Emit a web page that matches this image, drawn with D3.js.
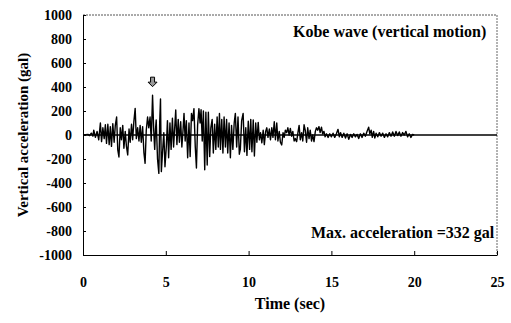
<!DOCTYPE html>
<html>
<head>
<meta charset="utf-8">
<script src="https://cdn.jsdelivr.net/npm/d3@7"></script>
<style>
  body { margin: 0; background: #fff; }
  svg text { font-family: "Liberation Serif", "Times New Roman", serif; font-weight: bold; fill: #000; }
</style>
</head>
<body>
<svg id="chart" width="511" height="323"></svg>
<script>
// ground acceleration record: time (s), acceleration (gal)
const time = [0, 0.3, 0.4, 0.5, 0.6, 0.65, 0.75, 0.85, 0.95, 1.05, 1.12, 1.2, 1.28, 1.35, 1.42, 1.5, 1.58, 1.65, 1.72, 1.8,
  1.88, 1.95, 2.03, 2.1, 2.17, 2.25, 2.32, 2.4, 2.47, 2.55, 2.62, 2.7, 2.78, 2.85, 2.93, 3.0, 3.07, 3.15, 3.22, 3.3,
  3.38, 3.45, 3.52, 3.6, 3.68, 3.75, 3.82, 3.9, 3.97, 4.05, 4.12, 4.2, 4.27, 4.33, 4.38, 4.42, 4.5, 4.58, 4.63, 4.68,
  4.73, 4.8, 4.88, 4.95, 5.03, 5.1, 5.17, 5.25, 5.32, 5.4, 5.47, 5.55, 5.6, 5.67, 5.75, 5.82, 5.9, 5.97, 6.04, 6.1,
  6.17, 6.24, 6.32, 6.4, 6.47, 6.55, 6.62, 6.7, 6.78, 6.85, 6.92, 7.0, 7.07, 7.13, 7.2, 7.27, 7.35, 7.42, 7.5, 7.57,
  7.65, 7.72, 7.8, 7.87, 7.95, 8.02, 8.1, 8.17, 8.24, 8.3, 8.38, 8.45, 8.52, 8.6, 8.67, 8.74, 8.82, 8.9, 8.97, 9.05,
  9.13, 9.2, 9.28, 9.36, 9.44, 9.5, 9.58, 9.67, 9.75, 9.83, 9.9, 9.98, 10.06, 10.13, 10.2, 10.28, 10.35, 10.43, 10.5, 10.58,
  10.65, 10.72, 10.8, 10.88, 10.95, 11.03, 11.1, 11.17, 11.25, 11.32, 11.4, 11.47, 11.55, 11.62, 11.7, 11.77, 11.85, 11.92, 12.0, 12.08,
  12.15, 12.22, 12.3, 12.37, 12.45, 12.52, 12.6, 12.67, 12.75, 12.82, 12.9, 12.98, 13.05, 13.12, 13.2, 13.27, 13.35, 13.42, 13.5, 13.57,
  13.65, 13.72, 13.8, 13.87, 13.95, 14.03, 14.1, 14.17, 14.25, 14.32, 14.4, 14.47, 14.55, 14.62, 14.7, 14.8, 14.9, 15.0, 15.1, 15.2,
  15.3, 15.4, 15.48, 15.55, 15.65, 15.75, 15.85, 15.95, 16.05, 16.15, 16.25, 16.35, 16.45, 16.55, 16.65, 16.75, 16.85, 16.95, 17.05, 17.15,
  17.25, 17.32, 17.4, 17.47, 17.55, 17.62, 17.7, 17.8, 17.9, 18.0, 18.1, 18.2, 18.3, 18.4, 18.5, 18.6, 18.7, 18.8, 18.9, 19.0,
  19.1, 19.2, 19.3, 19.4, 19.5, 19.6, 19.7, 19.8, 19.9, 20.0];
const accel = [0, 5, -5, 15, -10, 40, -20, 30, -40, 100, -55, 60, -30, 85, -70, 90, -80, 70, -95, 95,
  -60, 80, 150, -125, -183, 60, -40, 80, -110, 30, -90, -166, 50, -60, 90, -40, 110, 222, -30, 60,
  -50, 80, -60, 70, -150, -236, 40, 150, 60, 150, -50, 332, 40, -120, 50, 125, -200, -320, 100, 300,
  -305, -150, 20, -265, -100, 120, -190, 100, -120, 140, -100, 90, 208, -80, 130, -60, 110, -100, 40, 180,
  -50, 120, -190, 100, -180, 180, 120, 220, -100, -275, 80, 220, 100, 210, -50, 200, -290, 190, -250, 190,
  -180, 60, 130, -150, 90, -120, 150, -100, 180, -120, 130, -150, 150, -100, 130, -150, 100, -190, 80, -120,
  100, 180, -100, 150, -160, -120, 120, 180, -140, 60, -170, 115, -120, 130, -140, 125, -175, 100, -60, 105,
  -40, 20, -65, 40, -80, 30, 60, -20, 50, -40, 60, -20, 110, -40, 100, -50, 30, -60, -83, 20,
  -20, 40, 20, 60, 0, 55, -10, 30, -50, -30, -55, 20, 80, -40, 20, -50, 85, 40, -60, 60,
  -30, 40, -50, 0, -55, 30, 60, 40, 70, 20, 65, 10, 30, -15, 10, -20, 10, -15, 15, -20,
  10, 47, -15, 20, -20, 15, -25, 10, -35, 5, -20, 10, -15, 5, -30, 10, -20, 15, -10, 30,
  65, 10, 40, -20, 30, -25, 15, -15, 20, -10, 15, -20, 10, -15, 20, -10, 25, -10, 30, -5,
  25, -10, 20, 0, 30, -15, 10, -20, 5, 0];

const xTicks = [0, 5, 10, 15, 20, 25];
const yTicks = [-1000, -800, -600, -400, -200, 0, 200, 400, 600, 800, 1000];

const data = time.map((t, i) => ({t, a: accel[i]}));

const margin = {top: 15, right: 14, bottom: 68, left: 83};
const width = 511;
const height = 323;

const svg = d3.select('#chart');

const x = d3.scaleLinear()
  .domain([0, 25])
  .range([margin.left, width - margin.right]);
const y = d3.scaleLinear()
  .domain([-1000, 1000])
  .range([height - margin.bottom, margin.top]);

// frame: left/bottom solid, top/right lighter as in the scan
svg.append('line')
  .attr('x1', x(0)).attr('x2', x(25)).attr('y1', y(1000)).attr('y2', y(1000))
  .attr('stroke', '#555').attr('stroke-dasharray', '2,1');
svg.append('line')
  .attr('x1', x(25)).attr('x2', x(25)).attr('y1', y(1000)).attr('y2', y(-1000))
  .attr('stroke', '#666').attr('stroke-dasharray', '2,1');

svg.append('g')
  .attr('transform', `translate(0,${y(-1000)})`)
  .call(d3.axisBottom(x).tickValues(xTicks).tickFormat(d => String(d))
    .tickSizeInner(-4).tickSizeOuter(0).tickPadding(22))
  .call(g => g.select('.domain').attr('stroke', '#000'))
  .call(g => g.selectAll('.tick text').attr('font-size', 14));

svg.append('g')
  .attr('transform', `translate(${x(0)},0)`)
  .call(d3.axisLeft(y).tickValues(yTicks).tickFormat(d => String(d))
    .tickSizeInner(-3).tickSizeOuter(0).tickPadding(11))
  .call(g => g.select('.domain').attr('stroke', '#000'))
  .call(g => g.selectAll('.tick text').attr('font-size', 14));

// zero line
svg.append('line')
  .attr('x1', x(0)).attr('x2', x(25)).attr('y1', y(0)).attr('y2', y(0))
  .attr('stroke', '#000').attr('stroke-width', 1.6);

const line = d3.line()
  .x(d => x(d.t))
  .y(d => y(d.a));

svg.append('path')
  .datum(data)
  .attr('fill', 'none')
  .attr('stroke', '#000')
  .attr('stroke-width', 1.4)
  .attr('stroke-linejoin', 'round')
  .attr('d', line);

// arrow above the peak
const peak = data.reduce((m, d) => d.a > m.a ? d : m, data[0]);
const ax = x(peak.t);
const ay = y(peak.a) - 9;
svg.append('path')
  .attr('d', `M${ax - 2},${ay - 9} h4 v5 h2.5 l-4.5,4.5 l-4.5,-4.5 h2.5 z`)
  .attr('fill', '#999')
  .attr('stroke', '#000')
  .attr('stroke-width', 1);

svg.append('text')
  .attr('x', 293).attr('y', 37)
  .attr('font-size', 16)
  .text('Kobe wave (vertical motion)');

svg.append('text')
  .attr('x', 311).attr('y', 238)
  .attr('font-size', 16)
  .text('Max. acceleration =332 gal');

svg.append('text')
  .attr('x', 290).attr('y', 309)
  .attr('text-anchor', 'middle')
  .attr('font-size', 16)
  .text('Time (sec)');

svg.append('text')
  .attr('transform', `translate(28,${y(0)}) rotate(-90)`)
  .attr('text-anchor', 'middle')
  .attr('font-size', 15)
  .text('Vertical acceleration (gal)');
</script>
</body>
</html>
